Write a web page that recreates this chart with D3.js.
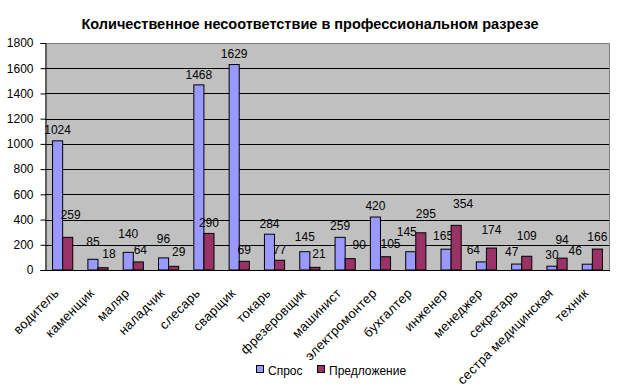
<!DOCTYPE html>
<html><head><meta charset="utf-8">
<script src="https://cdn.jsdelivr.net/npm/d3@7"></script>
<style>body{margin:0;background:#fff}svg{display:block}text{font-family:"Liberation Sans",Arial,sans-serif}</style>
</head><body>
<script>
const categories = ["водитель","каменщик","маляр","наладчик","слесарь","сварщик","токарь","фрезеровщик","машинист","электромонтер","бухгалтер","инженер","менеджер","секретарь","сестра медицинская","техник"];
const demand = [1024,85,140,96,1468,1629,284,145,259,420,145,165,64,47,30,46];
const supply = [259,18,64,29,290,69,77,21,90,105,295,354,174,109,94,166];
const seriesNames = ["Спрос","Предложение"];
const yTicks = [0,200,400,600,800,1000,1200,1400,1600,1800];
const title = "Количественное несоответствие в профессиональном разрезе";

// layout-only nudges for value labels (pixels), as placed in the original
const demandLabelDx = [0,0,0,0,0,0,0,0,0,0,-4,-3,-8,-5,0,-12];
const demandLabelLift = [7,13,14,15,6,7,6,11,7,7,16,9,8,8,7,9];
const supplyLabelDx = [3,6,2,5,0,0,0,4,9,5,5,7,0,0,0,0];
const supplyLabelLift = [18,10,8,10,6,7,6,9,10,9,15,17,14,16,14,8];

const W=624,H=391;
const m={left:45,right:14,top:43,bottom:121};
const colors=["#9999FF","#993366"];
const svg=d3.select("body").append("svg").attr("width",W).attr("height",H);

const x=d3.scaleBand().domain(categories).range([m.left,W-m.right]).padding(0);
const y=d3.scaleLinear().domain([0,1800]).range([H-m.bottom,m.top]);
const bw=x.bandwidth()/3.5;

svg.append("rect").attr("x",m.left).attr("y",m.top).attr("width",W-m.right-m.left).attr("height",H-m.bottom-m.top).attr("fill","#C0C0C0");
svg.append("g").selectAll("line").data(yTicks.filter(d=>d>0&&d<1800)).join("line")
 .attr("x1",m.left).attr("x2",W-m.right).attr("y1",d=>Math.round(y(d))+0.5).attr("y2",d=>Math.round(y(d))+0.5)
 .attr("stroke","#000").attr("stroke-width",1);
svg.append("path").attr("d",`M${m.left},${m.top+0.5}H${W-m.right-0.5}V${H-m.bottom}`).attr("fill","none").attr("stroke","#808080");

const series=[{v:demand,dx:demandLabelDx,lift:demandLabelLift},{v:supply,dx:supplyLabelDx,lift:supplyLabelLift}];
series.forEach((s,si)=>{
  const g=svg.append("g");
  g.selectAll("rect").data(s.v).join("rect")
   .attr("x",(d,i)=>x(categories[i])+x.bandwidth()/2-bw+si*bw)
   .attr("y",d=>y(d)).attr("width",bw).attr("height",d=>y(0)-y(d))
   .attr("fill",colors[si]).attr("stroke","#000").attr("stroke-width",1);
  g.selectAll("text").data(s.v).join("text")
   .attr("x",(d,i)=>x(categories[i])+x.bandwidth()/2-bw/2+si*bw+s.dx[i])
   .attr("y",(d,i)=>y(d)-s.lift[i]).attr("text-anchor","middle").attr("font-size",12).attr("fill","#000")
   .text(d=>d);
});

const ya=svg.append("g").attr("transform",`translate(${m.left+0.5},0)`)
 .call(d3.axisLeft(y).tickValues(yTicks).tickSize(5).tickPadding(7).tickFormat(d3.format("d")));
ya.select(".domain").attr("stroke","#000");
ya.selectAll(".tick line").attr("stroke","#000");
ya.selectAll("text").attr("font-size",12).attr("fill","#000").attr("font-family","'Liberation Sans',Arial,sans-serif");
svg.append("line").attr("x1",m.left).attr("x2",W-m.right).attr("y1",y(0)+0.5).attr("y2",y(0)+0.5).attr("stroke","#000");
svg.append("g").selectAll("text").data(categories).join("text")
 .attr("transform",d=>`translate(${x(d)+x.bandwidth()/2-3},${y(0)+24}) rotate(-45)`)
 .attr("text-anchor","end").attr("font-size",13).attr("letter-spacing",0.3).attr("fill","#000").text(d=>d);

svg.append("text").attr("x",310).attr("y",29).attr("text-anchor","middle").attr("font-size",14.5).attr("font-weight","bold").text(title);

const lg=svg.append("g");
const lx=[256,317];
seriesNames.forEach((n,i)=>{
  lg.append("rect").attr("x",lx[i]+0.5).attr("y",365.5).attr("width",7).attr("height",7).attr("fill",colors[i]).attr("stroke","#000");
  lg.append("text").attr("x",lx[i]+12).attr("y",375).attr("font-size",12).text(n);
});
</script>
</body></html>
